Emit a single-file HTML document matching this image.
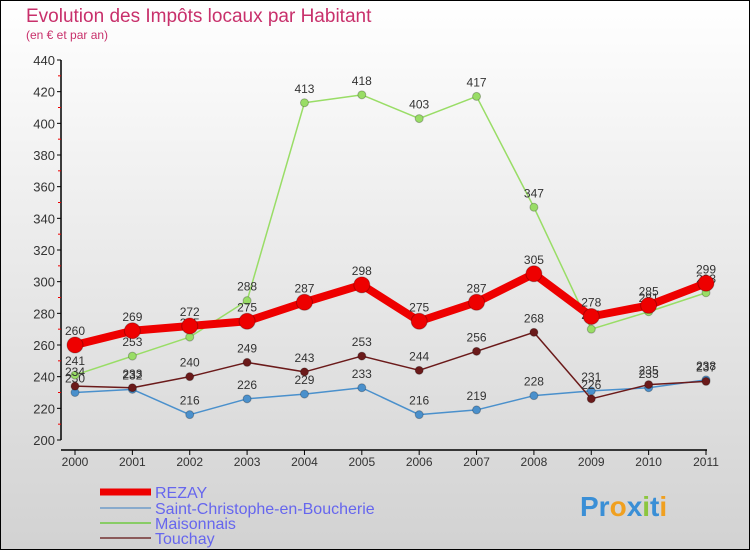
<!DOCTYPE html>
<html><head><meta charset="utf-8"><style>
body{margin:0}
#c{width:750px;height:550px;position:relative;overflow:hidden;font-family:"Liberation Sans",sans-serif}
</style></head><body>
<div id="c">
<svg id="s" width="750" height="550" xmlns="http://www.w3.org/2000/svg">
<defs><linearGradient id="bg" x1="0" y1="0" x2="0" y2="1"><stop offset="0" stop-color="#ffffff"/><stop offset="1" stop-color="#d2d2d2"/></linearGradient></defs>
<rect x="0" y="0" width="750" height="550" fill="url(#bg)" stroke="#000" stroke-width="2"/>
<text x="26" y="22" font-size="19" fill="#c8306b">Evolution des Impôts locaux par Habitant</text>
<text x="26" y="39" font-size="12" fill="#c8306b">(en € et par an)</text>
<g id="axes"></g><g id="series"></g>
<g>
<line x1="100" y1="492" x2="151" y2="492" stroke="#ee0000" stroke-width="7"/>
<line x1="100" y1="508" x2="151" y2="508" stroke="#88aacc" stroke-width="2"/>
<line x1="100" y1="523" x2="151" y2="523" stroke="#88cc66" stroke-width="2"/>
<line x1="100" y1="538" x2="151" y2="538" stroke="#8b5a5a" stroke-width="2"/>
<text x="155" y="498" font-size="16" fill="#6666ee">REZAY</text>
<text x="155" y="514" font-size="16" fill="#6666ee">Saint-Christophe-en-Boucherie</text>
<text x="155" y="529" font-size="16" fill="#6666ee">Maisonnais</text>
<text x="155" y="544" font-size="16" fill="#6666ee">Touchay</text>
</g>
<text x="580" y="516" font-size="28" font-weight="bold"><tspan fill="#3a8fd6">Pr</tspan><tspan fill="#f0a020">o</tspan><tspan fill="#3a8fd6">x</tspan><tspan fill="#8cc63f">i</tspan><tspan fill="#3a8fd6">t</tspan><tspan fill="#f0a020">i</tspan></text>
</svg>
</div>
<script>
const years=[2000,2001,2002,2003,2004,2005,2006,2007,2008,2009,2010,2011];
const rezay=[260,269,272,275,287,298,275,287,305,278,285,299];
const saintChristophe=[230,232,216,226,229,233,216,219,228,231,233,238];
const maisonnais=[241,253,265,288,413,418,403,417,347,270,281,293];
const touchay=[234,233,240,249,243,253,244,256,268,226,235,237];
const yTicks=[200,220,240,260,280,300,320,340,360,380,400,420,440];
const NS="http://www.w3.org/2000/svg";
const X=i=>75+i*(706-75)/(years.length-1);
const Y=v=>440-(v-200)*(380/240);
function mk(t,a,p){const e=document.createElementNS(NS,t);for(const k in a)e.setAttribute(k,a[k]);p.appendChild(e);return e;}
const ax=document.getElementById('axes');
let l=mk('line',{x1:61,y1:Y(440),x2:61,y2:440,stroke:'#000','stroke-width':1.5},ax);


l=mk('line',{x1:61,y1:450,x2:707,y2:450,stroke:'#000','stroke-width':1.5},ax);


yTicks.forEach((v,i)=>{
 const y=Y(v);
 let t=mk('line',{x1:57,y1:y,x2:61,y2:y,stroke:'#000'},ax);
 
 
 if(i<yTicks.length-1){let m=mk('line',{x1:58,y1:y-(380/24),x2:61,y2:y-(380/24),stroke:'#e00'},ax);
 
 }
 let tx=mk('text',{x:55,y:y+5,'text-anchor':'end','font-size':13,fill:'#333'},ax);tx.textContent=v;
 
 
});
years.forEach((yr,i)=>{
 let t=mk('line',{x1:X(i),y1:450,x2:X(i),y2:455,stroke:'#000'},ax);
 
 
 let tx=mk('text',{x:X(i),y:466,'text-anchor':'middle','font-size':12,fill:'#333'},ax);tx.textContent=yr;
 
 
});
const sg=document.getElementById('series');
function series(data,color,w,r,name){
 const g=mk('g',{},sg);
 
 
 const p=mk('polyline',{points:data.map((v,i)=>X(i)+','+Y(v)).join(' '),fill:'none',stroke:color,'stroke-width':w,'stroke-linejoin':'round'},g);
 
 
 data.forEach((v,i)=>{
  const c=mk('circle',{cx:X(i),cy:Y(v),r:r,fill:color,stroke:'rgba(0,0,0,0.25)'},g);
  
  
  const t=mk('text',{x:X(i),y:Y(v)-10,'text-anchor':'middle','font-size':12,fill:'#333'},g);t.textContent=v;
  
  
 });
}
series(saintChristophe,'#4a90cc',1.5,4,'saint-christophe');
series(maisonnais,'#99dd66',1.5,4,'maisonnais');
series(touchay,'#6b1a1a',1.5,4,'touchay');
series(rezay,'#ee0000',8,8,'rezay');
</script>
</body></html>
